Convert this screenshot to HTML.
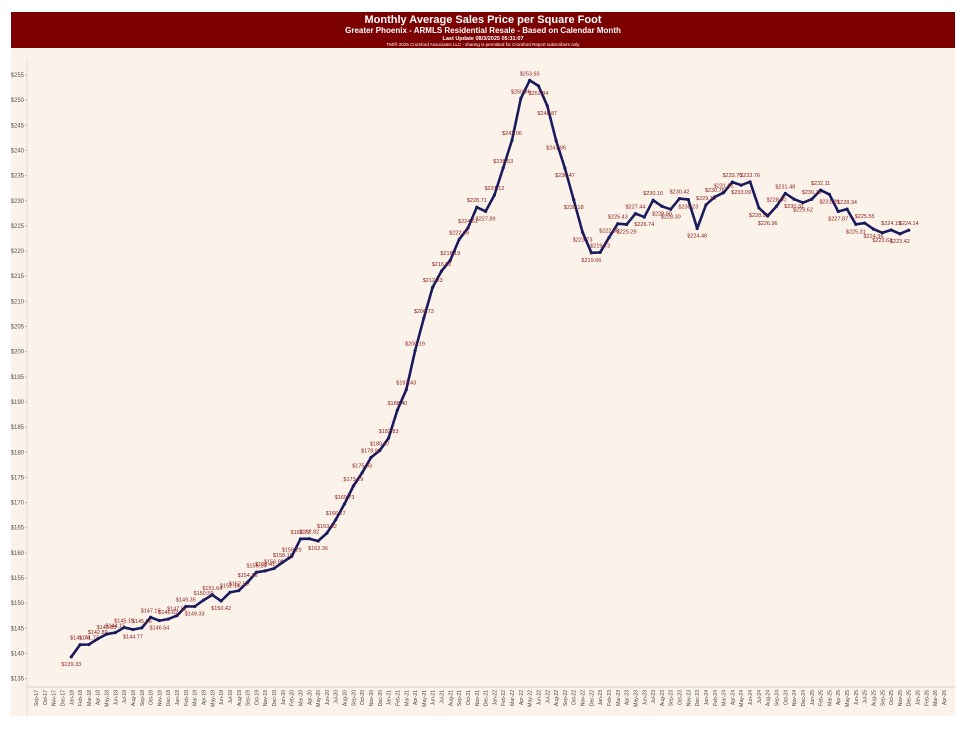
<!DOCTYPE html>
<html><head><meta charset="utf-8"><style>
body{margin:0;background:#fff;font-family:"Liberation Sans",sans-serif}
#wrap{position:relative;width:970px;height:725px}
</style></head><body>
<div id="wrap">
<svg id="chart" width="970" height="725">
<rect x="11" y="48" width="944" height="668" fill="#fbf3e9"/>
<rect x="11" y="12" width="944" height="36" fill="#7d0000"/>
<text x="483" y="23" text-anchor="middle" fill="#fff" font-size="11" font-weight="bold">Monthly Average Sales Price per Square Foot</text>
<text x="483" y="33" text-anchor="middle" fill="#fff" font-size="8" font-weight="bold">Greater Phoenix - ARMLS Residential Resale - Based on Calendar Month</text>
<text x="483" y="40" text-anchor="middle" fill="#fff" font-size="5.5" font-weight="bold">Last Update 08/3/2025 05:31:07</text>
<text x="483" y="46" text-anchor="middle" fill="#fff" font-size="4.5">TM/® 2025 Cromford Associates LLC - sharing is permitted for Cromford Report subscribers only</text>
<line x1="27" y1="60" x2="27" y2="716" stroke="#ddd"/>
<line x1="27" y1="687" x2="955" y2="687" stroke="#ccc"/>
<g id="yaxis"></g><g id="xaxis"></g><g id="series"></g>
</svg>
</div>
<script>
const yTicks=[135,140,145,150,155,160,165,170,175,180,185,190,195,200,205,210,215,220,225,230,235,240,245,250,255];
const monthNames=["Jan","Feb","Mar","Apr","May","Jun","Jul","Aug","Sep","Oct","Nov","Dec"];
const xStartYear=2017, xStartMonth=8, xCount=104;
const dataStartIndex=4;
const prices=[139.33,141.74,141.77,142.89,143.83,144.15,145.15,144.77,145.08,147.19,146.54,146.82,147.52,149.35,149.33,150.59,151.64,150.42,152.14,152.5,154.16,156.14,156.41,156.89,158.15,159.29,162.77,162.82,162.36,163.92,166.57,169.73,173.29,175.93,178.96,180.37,182.83,188.40,192.43,200.19,206.73,212.83,216.02,218.19,222.29,224.61,228.71,227.89,231.12,236.53,242.06,250.36,253.93,252.84,248.87,241.96,236.47,230.18,223.73,219.66,219.73,222.68,225.43,225.29,227.44,226.74,230.10,228.90,228.30,230.42,230.23,224.48,229.19,230.76,231.61,233.70,233.09,233.76,228.58,226.96,228.90,231.48,230.31,229.62,230.30,232.11,231.26,227.87,228.34,225.31,225.55,224.36,223.63,224.19,223.42,224.14];
const NS="http://www.w3.org/2000/svg";
const x0=36,dx=(944-36)/(xCount-1);
const xs=i=>x0+i*dx;
const ys=v=>75+(255-v)*(678.6-75)/120;
function mk(t,a,p){const e=document.createElementNS(NS,t);for(const k in a)e.setAttribute(k,a[k]);p.appendChild(e);return e;}
const ya=document.getElementById('yaxis');
yTicks.forEach(v=>{
 const t=mk('text',{x:24,y:ys(v)+2,'text-anchor':'end','font-size':6,fill:'#555'},ya);
 
 
 t.textContent='$'+v;
 const l=mk('line',{x1:25,x2:27,y1:ys(v),y2:ys(v),stroke:'#bbb'},ya);
 
 
});
const xa=document.getElementById('xaxis');
for(let i=0;i<xCount;i++){
 const m=(xStartMonth+i)%12, y=xStartYear+Math.floor((xStartMonth+i)/12);
 const x=xs(i)+2,yy=690;
 const t=mk('text',{x:x,y:yy,'text-anchor':'end','font-size':5,fill:'#444',transform:`rotate(-90 ${x} ${yy})`},xa);
 
 
 t.textContent=monthNames[m]+'-'+String(y%100);
}
const sg=document.getElementById('series');
const pts=prices.map((v,i)=>xs(i+dataStartIndex).toFixed(1)+','+ys(v).toFixed(1)).join(' ');
const pl=mk('polyline',{points:pts,fill:'none',stroke:'#1a1a5e','stroke-width':2.6,'stroke-linejoin':'round'},sg);


prices.forEach((v,i)=>{
 const x=xs(i+dataStartIndex),y=ys(v);
 const c=mk('circle',{cx:x,cy:y,r:1.6,fill:'#1a1a5e'},sg);
 
 
 const up=i===0?false:v>=prices[i-1];
 const t=mk('text',{x:x,y:up?y-5:y+9,'text-anchor':'middle','font-size':5.5,fill:'#8b1a1a'},sg);
 
 
 t.textContent='$'+v.toFixed(2);
});
</script>
</body></html>
